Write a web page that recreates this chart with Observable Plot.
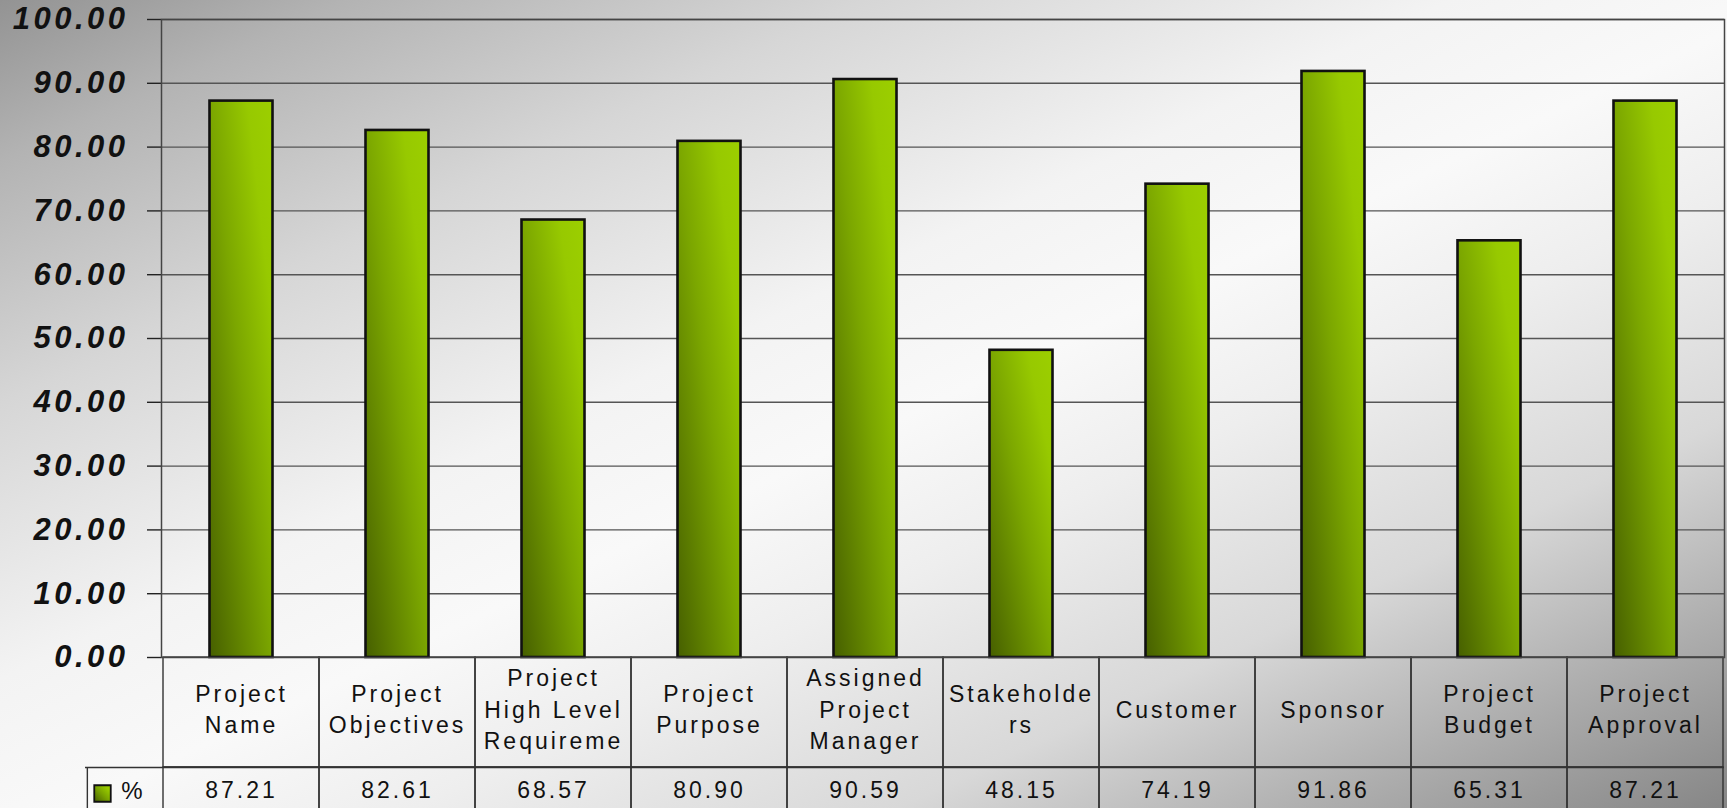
<!DOCTYPE html>
<html>
<head>
<meta charset="utf-8">
<script src="https://cdn.jsdelivr.net/npm/d3@7"></script>
<script src="https://cdn.jsdelivr.net/npm/@observablehq/plot@0.6"></script>
<style>
  html, body { margin: 0; padding: 0; overflow: hidden; background: #ddd; }
  #chart svg { display: block; }
  #chart g[aria-label="y-axis tick label"] text { font-weight: bold; font-style: italic; letter-spacing: 3.5px; }
</style>
</head>
<body>
<div id="chart"></div>
<script>
// ---- data ----
const categories = ["Project Name", "Project Objectives", "Project High Level Requireme", "Project Purpose",
  "Assigned Project Manager", "Stakeholders", "Customer", "Sponsor", "Project Budget", "Project Approval"];
const headerLabels = ["Project\nName", "Project\nObjectives", "Project\nHigh Level\nRequireme", "Project\nPurpose",
  "Assigned\nProject\nManager", "Stakeholde\nrs", "Customer", "Sponsor", "Project\nBudget", "Project\nApproval"];
const values = [87.21, 82.61, 68.57, 80.90, 90.59, 48.15, 74.19, 91.86, 65.31, 87.21];
const seriesName = "%";
const yTicks = [0, 10, 20, 30, 40, 50, 60, 70, 80, 90, 100];

const data = categories.map((c, i) => ({cat: c, label: headerLabels[i], v: values[i]}));

// ---- layout ----
const W = 1727, H = 808, ML = 161, MR = 3, MT = 19, MB = 151;
const plotH = H - MT - MB;
const bw = (W - ML - MR) / categories.length;
const px2y = px => -px * 100 / plotH;     // pixels below the zero line, in y units
const hdrBottom = px2y(110), tableBottom = px2y(175);
const hdrCenter = px2y(50), valCenter = px2y(133);
const legendW = 76;

const defs = () => {
  const ns = "http://www.w3.org/2000/svg";
  const d = document.createElementNS(ns, "defs");
  const g = document.createElementNS(ns, "linearGradient");
  g.setAttribute("id", "barGrad");
  g.setAttribute("x1", "0"); g.setAttribute("y1", "1");
  g.setAttribute("x2", "1"); g.setAttribute("y2", "0");
  [["0", "#465f00"], ["0.5", "#7ba600"], ["0.8", "#97c900"], ["1", "#9ccf00"]].forEach(([o, c]) => {
    const s = document.createElementNS(ns, "stop");
    s.setAttribute("offset", o); s.setAttribute("stop-color", c);
    g.appendChild(s);
  });
  d.appendChild(g);
  return d;
};

const chart = Plot.plot({
  width: W, height: H,
  marginLeft: ML, marginRight: MR, marginTop: MT, marginBottom: MB,
  style: {
    fontFamily: "'Liberation Sans', Arial, sans-serif",
    background: "linear-gradient(to bottom right, #939393 0%, #b3b3b3 10%, #d6d6d6 25%, #f3f3f3 42%, #f9f9f9 52%, #eeeeee 62%, #d8d8d8 76%, #aeaeae 88%, #868686 100%)",
    overflow: "hidden"
  },
  x: {domain: categories, padding: 0, axis: null},
  y: {domain: [0, 100], axis: null},
  marks: [
    defs,
    Plot.ruleY(yTicks.filter(t => t > 0), {stroke: "#555", strokeWidth: 1.4}),
    Plot.axisY({ticks: yTicks, label: null, tickFormat: d => d.toFixed(2), tickSize: 14, tickPadding: 19,
      fontSize: 31, fontWeight: "bold", fontStyle: "italic", fill: "#111", stroke: "#222", strokeWidth: 1.4}),
    // data table: header row and value row
    Plot.barY(data, {x: "cat", y1: hdrBottom, y2: 0, fill: "none", stroke: "#333", strokeWidth: 1.4}),
    Plot.barY(data, {x: "cat", y1: tableBottom, y2: hdrBottom, fill: "none", stroke: "#333", strokeWidth: 1.4}),
    Plot.ruleY([hdrBottom], {insetLeft: -legendW, stroke: "#333", strokeWidth: 1.4}),
    Plot.ruleX([categories[0]], {y1: tableBottom, y2: hdrBottom, dx: -bw / 2 - legendW, stroke: "#333", strokeWidth: 1.4}),
    Plot.text(data, {x: "cat", y: hdrCenter, text: "label", fontSize: 23, lineHeight: 1.37, fill: "#111"}),
    Plot.text(data, {x: "cat", y: valCenter, text: d => d.v.toFixed(2), fontSize: 23, fill: "#111"}),
    Plot.dot([seriesName], {frameAnchor: "bottom-left", dx: -59, dy: 136, symbol: "square", r: 9.3,
      fill: "url(#barGrad)", stroke: "#111", strokeWidth: 1.8}),
    Plot.text([seriesName], {frameAnchor: "bottom-left", dx: -28, dy: 134, text: d => d, fontSize: 24, fill: "#111",
      textAnchor: "middle", lineAnchor: "middle"}),
    // bars
    Plot.barY(data, {x: "cat", y: "v", fill: "url(#barGrad)", stroke: "#111", strokeWidth: 2.6,
      insetLeft: 46.5, insetRight: 46.5}),
    Plot.frame({stroke: "#444", strokeWidth: 1.5})
  ]
});
document.getElementById("chart").appendChild(chart);
// letter spacing for table text (wide Excel-like rendering)
chart.querySelectorAll("text").forEach(t => {
  if (!t.closest('g[aria-label="y-axis tick label"]')) t.style.letterSpacing = "3px";
});
</script>
</body>
</html>
